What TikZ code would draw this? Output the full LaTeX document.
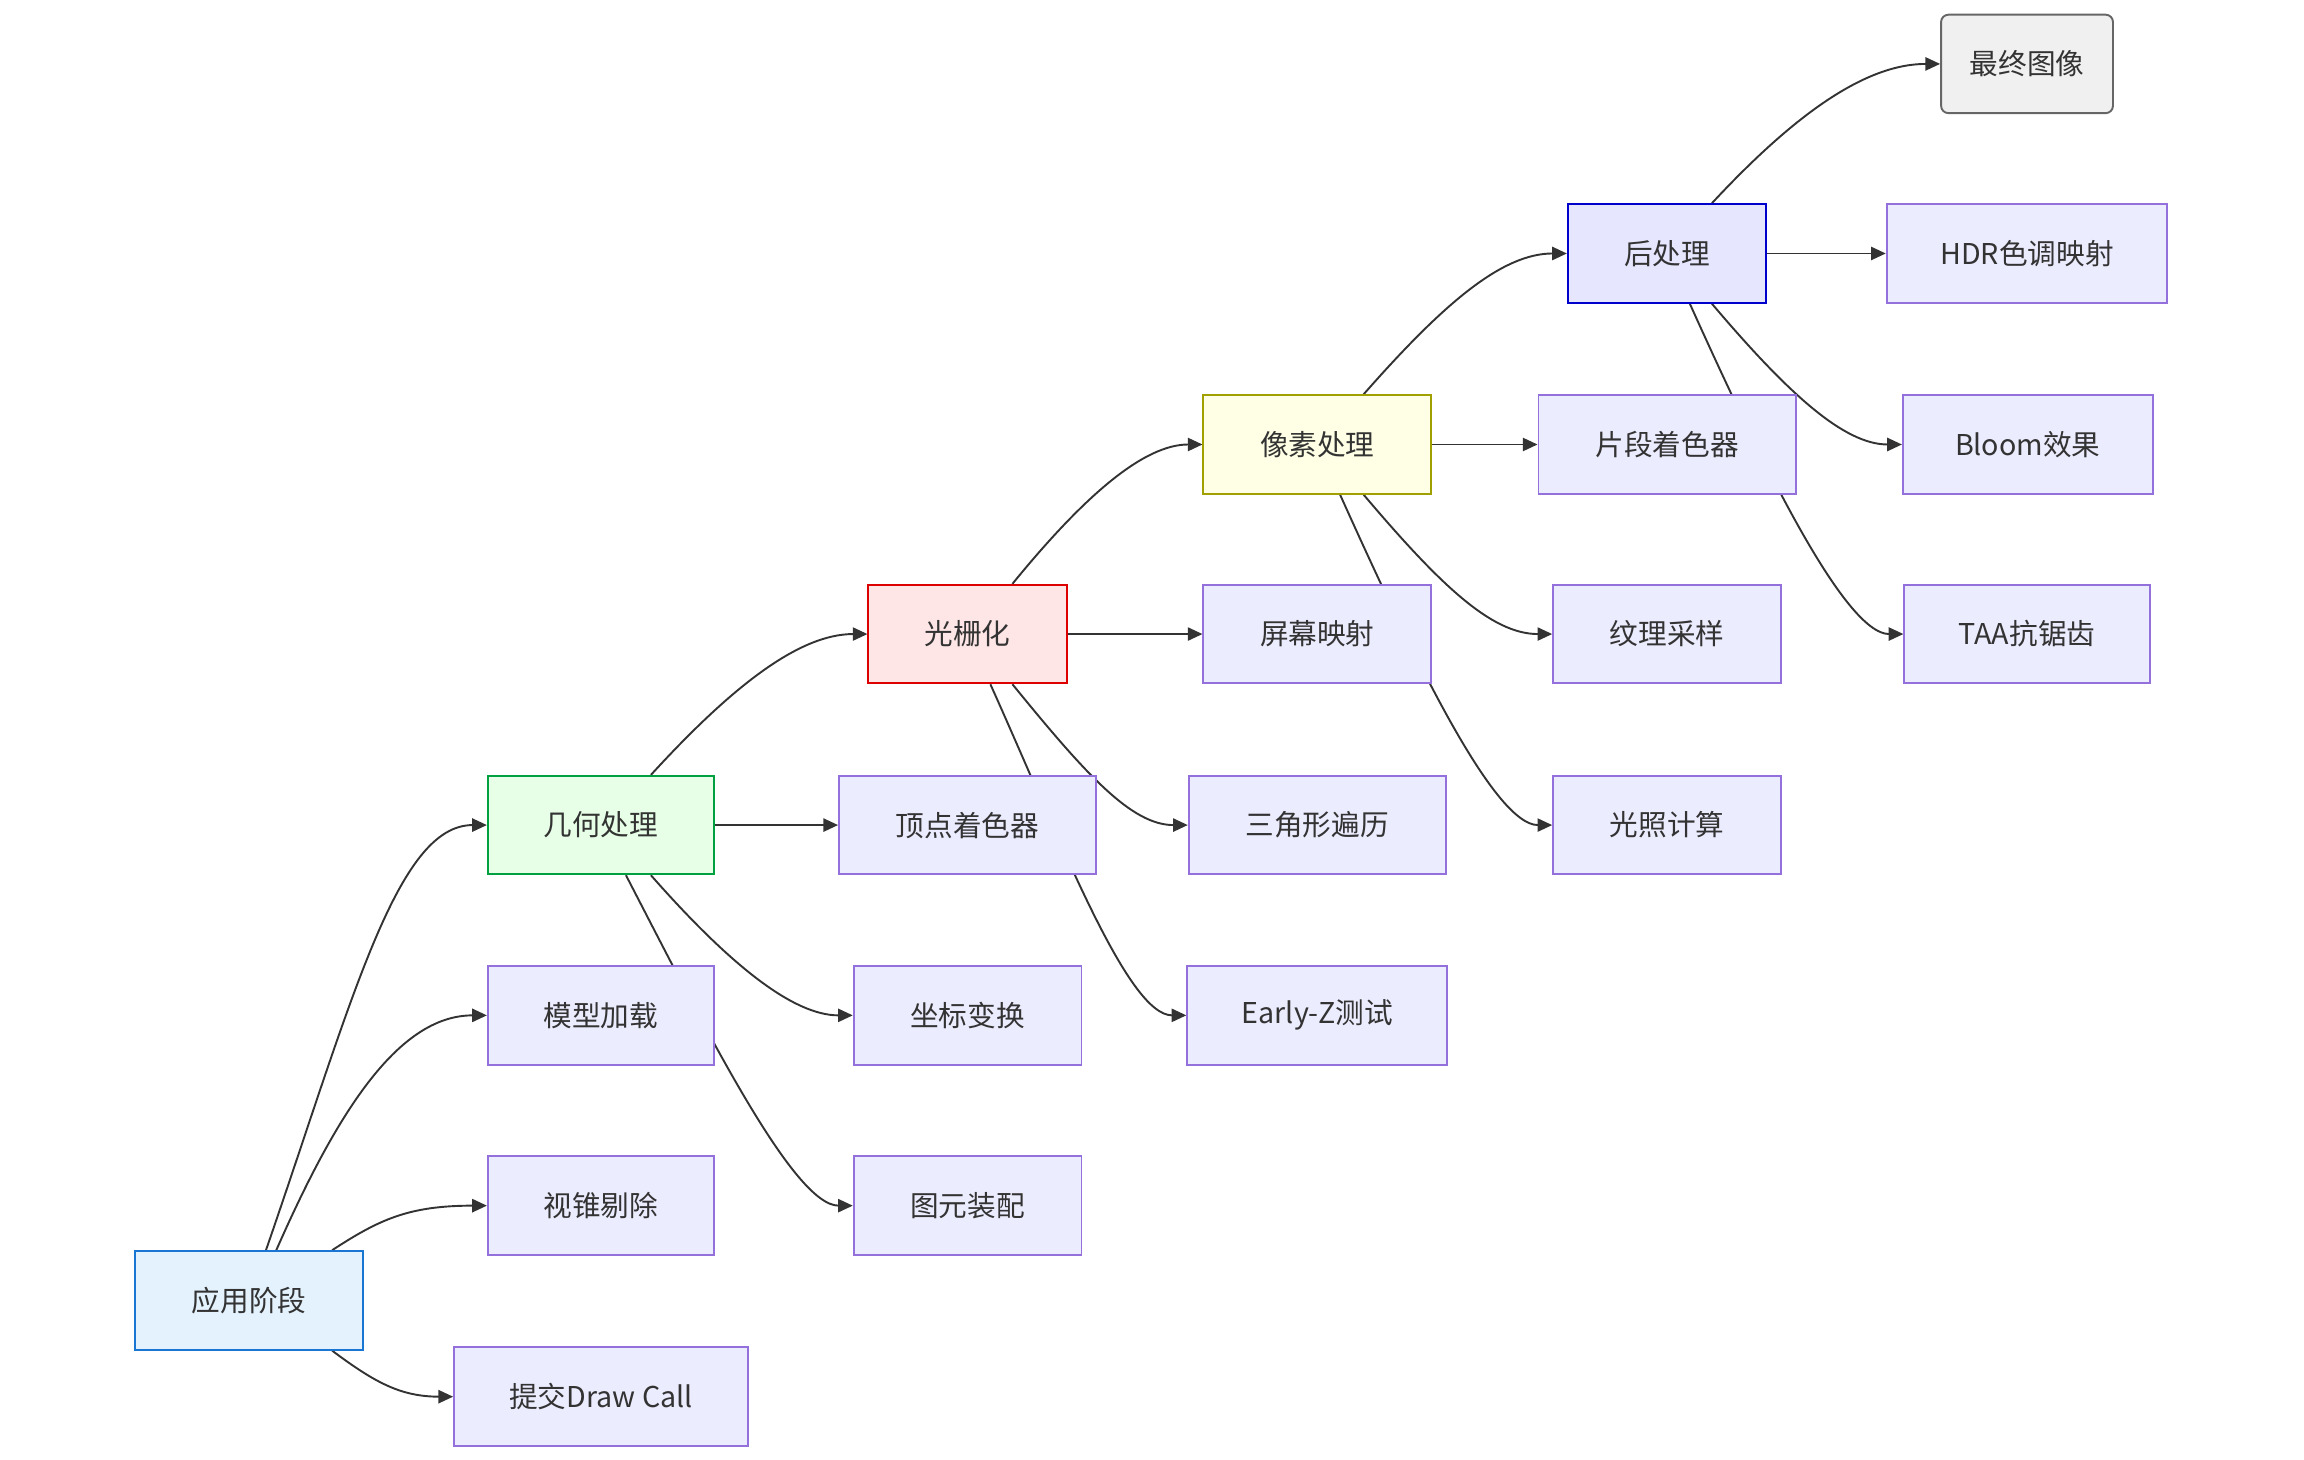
\documentclass[tikz,border=0pt]{standalone}
\usepackage{fontspec}
\setmainfont{Noto Sans CJK SC}
\usetikzlibrary{arrows.meta}
\pgfdeclarelayer{bg}
\pgfsetlayers{bg,main}
\definecolor{txt}{HTML}{333333}
\definecolor{defFill}{HTML}{ECECFF}
\definecolor{defLine}{HTML}{9370DB}
\definecolor{appFill}{HTML}{E3F2FD}
\definecolor{appLine}{HTML}{1976D2}
\definecolor{geoFill}{HTML}{E6FFE6}
\definecolor{geoLine}{HTML}{00A040}
\definecolor{rastFill}{HTML}{FFE6E6}
\definecolor{rastLine}{HTML}{DD0000}
\definecolor{pixFill}{HTML}{FFFFE6}
\definecolor{pixLine}{HTML}{A0A000}
\definecolor{postFill}{HTML}{E6E6FF}
\definecolor{postLine}{HTML}{0000CC}
\definecolor{finFill}{HTML}{F0F0F0}
\definecolor{finLine}{HTML}{666666}
\tikzset{
  box/.style={draw=defLine, fill=defFill, line width=1.3pt, minimum height=67pt, inner sep=0pt,
    text=txt, font=\fontsize{19.5}{23}\selectfont},
  appbox/.style={box, draw=appLine, fill=appFill},
  geobox/.style={box, draw=geoLine, fill=geoFill},
  rastbox/.style={box, draw=rastLine, fill=rastFill},
  pixbox/.style={box, draw=pixLine, fill=pixFill},
  postbox/.style={box, draw=postLine, fill=postFill},
  finbox/.style={box, draw=finLine, fill=finFill, rounded corners=5pt},
  conn/.style={draw=txt, line width=1.3pt, -{Triangle[length=10pt,width=9pt]}},
}
\begin{document}
\begin{tikzpicture}[x=1pt,y=-1pt]
\useasboundingbox (0,0) rectangle (1568,993.6);
% nodes
\node[appbox, minimum width=155pt] (app) at (169.5,885) {应用阶段};
\node[geobox, minimum width=154pt] (geo) at (409,561.5) {几何处理};
\node[box, minimum width=154pt] (model) at (409,691) {模型加载};
\node[box, minimum width=154pt] (frus) at (409,820.5) {视锥剔除};
\node[box, minimum width=200pt] (sub) at (409,950.5) {提交Draw Call};
\node[rastbox, minimum width=135pt] (rast) at (658.5,431.5) {光栅化};
\node[box, minimum width=175pt] (vs) at (658.5,561.5) {顶点着色器};
\node[box, minimum width=155pt] (coord) at (658.5,691) {坐标变换};
\node[box, minimum width=155pt] (prim) at (658.5,820.5) {图元装配};
\node[pixbox, minimum width=155pt] (pix) at (896.5,302.5) {像素处理};
\node[box, minimum width=155pt] (scr) at (896.5,431.5) {屏幕映射};
\node[box, minimum width=175pt] (tri) at (896.5,561.5) {三角形遍历};
\node[box, minimum width=177pt] (ez) at (896.5,691) {Early-Z测试};
\node[postbox, minimum width=135pt] (post) at (1134.5,172.5) {后处理};
\node[box, minimum width=175pt] (frag) at (1134.5,302.5) {片段着色器};
\node[box, minimum width=155pt] (tex) at (1134.5,431.5) {纹理采样};
\node[box, minimum width=155pt] (light) at (1134.5,561.5) {光照计算};
\node[finbox, minimum width=117pt] (fin) at (1379.5,43.5) {最终图像};
\node[box, minimum width=191pt] (hdr) at (1379.5,172.5) {HDR色调映射};
\node[box, minimum width=170pt] (bloom) at (1380,302.5) {Bloom效果};
\node[box, minimum width=167pt] (taa) at (1379.5,431.5) {TAA抗锯齿};
% connectors
\begin{pgfonlayer}{bg}
\draw[conn] ([xshift=11.5pt]app.north) .. controls (240,680) and (270,561.5) .. (geo.west);
\draw[conn] ([xshift=18.5pt]app.north) .. controls (228,760) and (270,691) .. (model.west);
\draw[conn] ([xshift=56.5pt]app.north) .. controls (258,830) and (278,820.5) .. (frus.west);
\draw[conn] ([xshift=56.5pt]app.south) .. controls (254,940) and (272,950.5) .. (sub.west);

\draw[conn] ([xshift=34pt]geo.north) .. controls (500,465) and (545,431.5) .. (rast.west);
\draw[conn] (geo.east) -- (vs.west);
\draw[conn] ([xshift=34pt]geo.south) .. controls (497,657) and (540,691) .. (coord.west);
\draw[conn] ([xshift=17pt]geo.south) .. controls (480,700) and (540,820.5) .. (prim.west);

\draw[conn] ([xshift=30.5pt]rast.north) .. controls (739,336) and (779,302.5) .. (pix.west);
\draw[conn] (rast.east) -- (scr.west);
\draw[conn] ([xshift=30.5pt]rast.south) .. controls (739,527) and (770,561.5) .. (tri.west);
\draw[conn] ([xshift=15.5pt]rast.south) .. controls (721,570) and (767,691) .. (ez.west);

\draw[conn] ([xshift=31.5pt]pix.north) .. controls (982,207) and (1022,172.5) .. (post.west);
\draw[conn] (pix.east) -- (frag.west);
\draw[conn] ([xshift=31.5pt]pix.south) .. controls (980,398) and (1015,431.5) .. (tex.west);
\draw[conn] ([xshift=15.5pt]pix.south) .. controls (959,441) and (1016,561.5) .. (light.west);

\draw[conn] ([xshift=30.5pt]post.north) .. controls (1222,77) and (1270,43.5) .. (fin.west);
\draw[conn] (post.east) -- (hdr.west);
\draw[conn] ([xshift=30.5pt]post.south) .. controls (1217,268) and (1255,302.5) .. (bloom.west);
\draw[conn] ([xshift=15.5pt]post.south) .. controls (1197,311) and (1255,431.5) .. (taa.west);
\end{pgfonlayer}
\end{tikzpicture}
\end{document}
